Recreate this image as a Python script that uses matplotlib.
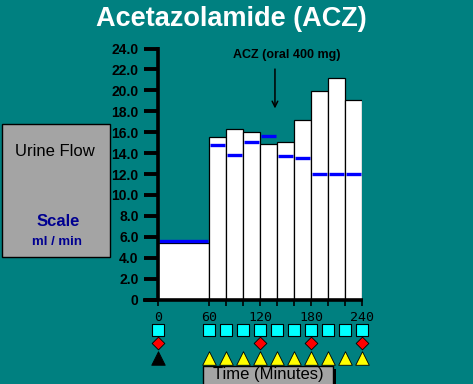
import matplotlib
matplotlib.use("Agg")
import matplotlib.pyplot as plt
from matplotlib.patches import Rectangle

# urine flow per collection period (ml/min)
bar_left = [0, 60, 80, 100, 120, 140, 160, 180, 200, 220]
bar_width = [60, 20, 20, 20, 20, 20, 20, 20, 20, 20]
bar_value = [5.4, 15.5, 16.3, 16.0, 14.9, 15.1, 17.2, 19.9, 21.15, 19.05]
# blue reference levels per period
ref_value = [5.55, 14.75, 13.8, 15.1, 15.6, 13.7, 13.5, 12.0, 12.0, 12.0]

y_ticks = [0, 2, 4, 6, 8, 10, 12, 14, 16, 18, 20, 22, 24]
y_labels = ["0"] + ["%.1f" % v for v in y_ticks[1:]]
x_ticks = [0, 60, 80, 100, 120, 140, 160, 180, 200, 220, 240]
x_labels = ["0", "60", "", "", "120", "", "", "180", "", "", "240"]

# sample markers under the axis
square_t = [0, 60, 80, 100, 120, 140, 160, 180, 200, 220, 240]
diamond_t = [0, 120, 180, 240]
black_tri_t = [0]
yellow_tri_t = [60, 80, 100, 120, 140, 160, 180, 200, 220, 240]

TEAL = "#008080"
W, H = 473, 384

fig = plt.figure(figsize=(W / 100, H / 100), dpi=100, facecolor=TEAL)

# pixel-space overlay for the decorations
bg = fig.add_axes([0, 0, 1, 1])
bg.set_xlim(0, W)
bg.set_ylim(H, 0)
bg.axis("off")

bg.text(231, 19, "Acetazolamide (ACZ)", color="white", fontsize=19.5,
        fontweight="bold", family="Liberation Sans", ha="center", va="center")

bg.add_patch(Rectangle((2, 124), 108, 133, facecolor="#A4A4A4",
                       edgecolor="black", lw=1))
bg.text(55, 152, "Urine Flow", fontsize=12, family="Liberation Sans",
        ha="center", va="center", color="black")
bg.text(58, 221, "Scale", fontsize=12, fontweight="bold", family="Liberation Sans",
        ha="center", va="center", color="#000090")
bg.text(57, 242, "ml / min", fontsize=9.5, fontweight="bold", family="Liberation Sans",
        ha="center", va="center", color="#000090")

bg.add_patch(Rectangle((206, 369), 130, 20, facecolor="black", lw=0))
bg.add_patch(Rectangle((203, 366), 130, 20, facecolor="#A4A4A4",
                       edgecolor="black", lw=1))
bg.text(268, 374, "Time (Minutes)", fontsize=12, family="Liberation Sans",
        ha="center", va="center", color="black")

# main plot
ax = fig.add_axes([158 / W, 1 - 299.5 / H, 204 / W, 251 / H])
ax.set_facecolor("none")
ax.set_xlim(0, 240)
ax.set_ylim(0, 24)
for s in ax.spines.values():
    s.set_visible(False)

ax.bar(bar_left, bar_value, width=bar_width, align="edge", color="white",
       edgecolor="black", lw=0.9, zorder=2)
for l, w, r in zip(bar_left, bar_width, ref_value):
    ax.hlines(r, l + 1, l + w - 1, color="#0000FF", lw=2.4, zorder=3)

ax.plot([-17.5, 241], [0, 0], color="black", lw=2.6, clip_on=False, zorder=4,
        solid_capstyle="butt")
ax.plot([0, 0], [0, 24.15], color="black", lw=2.6, clip_on=False, zorder=4,
        solid_capstyle="butt")

ax.set_yticks(y_ticks)
ax.set_yticklabels(y_labels, fontsize=10, fontweight="bold", family="Liberation Sans")
ax.tick_params(axis="y", length=10, width=2.8, pad=4, direction="out")
ax.set_xticks(x_ticks)
ax.set_xticklabels(x_labels, fontsize=9.5, family="DejaVu Sans Mono")
ax.tick_params(axis="x", length=4, width=1.2, pad=4, direction="out")

ax.scatter(square_t, [-2.92] * len(square_t), marker="s", s=68, c="#00FFFF",
           edgecolors="black", linewidths=0.8, clip_on=False, zorder=5)
ax.scatter(diamond_t, [-4.15] * len(diamond_t), marker="D", s=42, c="#FF0000",
           edgecolors="black", linewidths=0.6, clip_on=False, zorder=5)
ax.scatter(black_tri_t, [-5.55] * len(black_tri_t), marker="^", s=95, c="black",
           edgecolors="black", linewidths=0.6, clip_on=False, zorder=5)
ax.scatter(yellow_tri_t, [-5.55] * len(yellow_tri_t), marker="^", s=95, c="#FFFF00",
           edgecolors="black", linewidths=0.6, clip_on=False, zorder=5)

ax.annotate("", xy=(137.6, 18.0), xytext=(137.6, 22.3),
            arrowprops=dict(arrowstyle="->", color="black", lw=1.1))
ax.text(151.5, 23.4, "ACZ (oral 400 mg)", fontsize=9, fontweight="bold",
        family="Liberation Sans", ha="center", va="center")

fig.savefig("out.png", dpi=100, facecolor=TEAL)
